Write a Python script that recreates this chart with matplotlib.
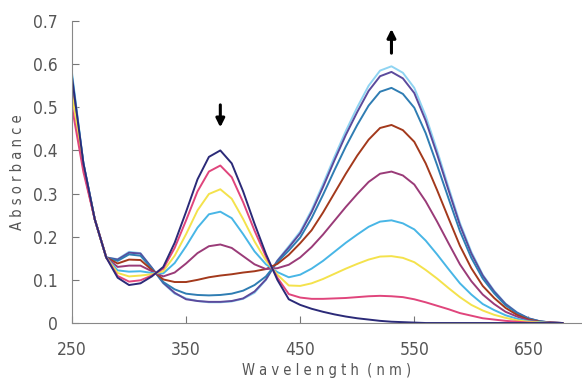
import matplotlib
matplotlib.use("Agg")
from matplotlib import pyplot as plt

wavelength = list(range(250, 690, 10))

# spectra, one per titration step (first -> last)
navy = [0.57, 0.37, 0.24, 0.152, 0.105, 0.088, 0.092, 0.108, 0.13, 0.186,
        0.258, 0.333, 0.385, 0.40, 0.37, 0.305, 0.23, 0.16, 0.10, 0.055,
        0.042, 0.033, 0.026, 0.02, 0.015, 0.011, 0.008, 0.005, 0.003, 0.002,
        0.001, 0, 0, 0, 0, 0, 0, 0, 0, 0, 0, 0, 0, 0]
pink = [0.50, 0.35, 0.24, 0.152, 0.109, 0.096, 0.099, 0.110, 0.126, 0.174,
        0.238, 0.305, 0.351, 0.365, 0.338, 0.280, 0.214, 0.154, 0.105, 0.067,
        0.059, 0.056, 0.056, 0.057, 0.058, 0.060, 0.062, 0.063, 0.062, 0.060,
        0.055, 0.048, 0.040, 0.032, 0.023, 0.017, 0.011, 0.008, 0.005, 0.003,
        0.001, 0, 0, 0]
yellow = [0.53, 0.36, 0.24, 0.152, 0.116, 0.108, 0.110, 0.113, 0.120, 0.156,
          0.206, 0.261, 0.299, 0.310, 0.288, 0.241, 0.189, 0.145, 0.112, 0.087,
          0.086, 0.092, 0.102, 0.114, 0.126, 0.137, 0.147, 0.154, 0.155, 0.151,
          0.141, 0.123, 0.103, 0.081, 0.060, 0.042, 0.029, 0.019, 0.012, 0.006,
          0.003, 0.001, 0, 0]
lightblue = [0.575, 0.37, 0.24, 0.152, 0.122, 0.119, 0.120, 0.116, 0.115, 0.139,
             0.178, 0.221, 0.252, 0.258, 0.243, 0.206, 0.166, 0.136, 0.118, 0.106,
             0.112, 0.126, 0.144, 0.165, 0.186, 0.205, 0.223, 0.235, 0.238, 0.231,
             0.217, 0.191, 0.159, 0.125, 0.092, 0.066, 0.044, 0.030, 0.018, 0.010,
             0.004, 0.002, 0, 0]
plum = [0.55, 0.36, 0.24, 0.152, 0.130, 0.133, 0.133, 0.120, 0.108, 0.117,
        0.138, 0.162, 0.178, 0.182, 0.174, 0.155, 0.136, 0.125, 0.127, 0.135,
        0.152, 0.176, 0.205, 0.237, 0.269, 0.299, 0.327, 0.346, 0.351, 0.342,
        0.321, 0.282, 0.235, 0.185, 0.136, 0.097, 0.066, 0.044, 0.026, 0.015,
        0.006, 0.002, 0.001, 0]
brown = [0.56, 0.36, 0.24, 0.152, 0.138, 0.147, 0.146, 0.123, 0.101, 0.095,
         0.095, 0.100, 0.106, 0.110, 0.113, 0.117, 0.120, 0.125, 0.137, 0.158,
         0.185, 0.215, 0.256, 0.301, 0.346, 0.388, 0.425, 0.452, 0.459, 0.447,
         0.420, 0.370, 0.308, 0.243, 0.179, 0.127, 0.086, 0.058, 0.035, 0.019,
         0.008, 0.003, 0.001, 0]
teal = [0.55, 0.36, 0.24, 0.152, 0.144, 0.159, 0.156, 0.126, 0.095, 0.078,
        0.068, 0.065, 0.064, 0.065, 0.068, 0.075, 0.088, 0.108, 0.141, 0.168,
        0.198, 0.243, 0.297, 0.354, 0.409, 0.459, 0.504, 0.536, 0.545, 0.531,
        0.499, 0.440, 0.366, 0.289, 0.213, 0.151, 0.103, 0.069, 0.041, 0.023,
        0.010, 0.004, 0.001, 0]
purple = [0.56, 0.37, 0.24, 0.152, 0.147, 0.163, 0.161, 0.128, 0.093, 0.070,
          0.055, 0.051, 0.049, 0.049, 0.051, 0.057, 0.073, 0.101, 0.144, 0.175,
          0.208, 0.257, 0.315, 0.377, 0.436, 0.489, 0.538, 0.572, 0.582, 0.567,
          0.533, 0.469, 0.391, 0.308, 0.227, 0.161, 0.110, 0.073, 0.044, 0.024,
          0.011, 0.004, 0.001, 0]
cyan = [0.58, 0.37, 0.24, 0.152, 0.148, 0.165, 0.162, 0.128, 0.092, 0.068,
        0.057, 0.051, 0.048, 0.048, 0.050, 0.056, 0.070, 0.100, 0.145, 0.178,
        0.212, 0.262, 0.322, 0.385, 0.445, 0.50, 0.55, 0.585, 0.595, 0.58,
        0.545, 0.48, 0.40, 0.315, 0.232, 0.165, 0.112, 0.075, 0.045, 0.025,
        0.011, 0.004, 0.001, 0]

spectra = [cyan, purple, teal, brown, plum, lightblue, yellow, pink, navy]
colors = ["#8fd4f2", "#5b4a9c", "#2f7db3", "#a3391c", "#9a3b78",
          "#48b6e6", "#f4e24c", "#e0457c", "#2b2a78"]

plt.rcParams["font.family"] = ["DejaVu Sans", "Liberation Sans"]
plt.rcParams["font.stretch"] = "condensed"

fig = plt.figure(figsize=(5.82, 3.88), dpi=100)
ax = fig.add_axes([0.1237, 0.1675, 0.8763, 0.7784])

for s, c in zip(spectra, colors):
    ax.plot(wavelength, s, color=c, linewidth=1.4)

ax.set_xlim(250, 697)
ax.set_ylim(0, 0.7)
ax.set_xticks([250, 350, 450, 550, 650])
ax.set_yticks([0, 0.1, 0.2, 0.3, 0.4, 0.5, 0.6, 0.7])
ax.set_yticklabels(["0", "0.1", "0.2", "0.3", "0.4", "0.5", "0.6", "0.7"])
ax.tick_params(direction="in", length=5, color="#777777", labelcolor="#555555",
               labelsize=12.5)
ax.tick_params(axis="x", pad=13)
ax.tick_params(axis="y", pad=10)
for side in ["top", "right"]:
    ax.spines[side].set_visible(False)
for side in ["left", "bottom"]:
    ax.spines[side].set_color("#888888")

ax.set_xlabel("W a v e l e n g t h  ( n m )", color="#555555", fontsize=10.5,
              labelpad=3)
ax.set_ylabel("A b s o r b a n c e", color="#555555", fontsize=10.5, labelpad=6)

ax.annotate("", xy=(380, 0.447), xytext=(380, 0.512),
            arrowprops=dict(arrowstyle="-|>,head_width=0.25,head_length=0.5",
                            color="black", lw=2.2))
ax.annotate("", xy=(530, 0.688), xytext=(530, 0.619),
            arrowprops=dict(arrowstyle="-|>,head_width=0.25,head_length=0.5",
                            color="black", lw=2.2))

fig.savefig("out.png", dpi=100)
